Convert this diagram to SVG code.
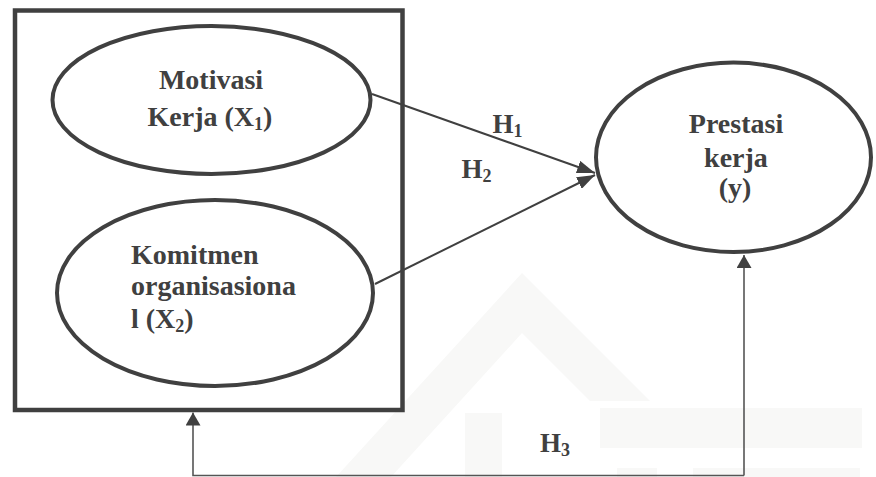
<svg xmlns="http://www.w3.org/2000/svg" width="876" height="477" viewBox="0 0 876 477">
<defs>
<style>
.node{fill:none;stroke:#404040;stroke-width:4}
.lbl{font-family:"Liberation Serif","Times New Roman",serif;font-weight:bold;font-size:28px;fill:#404040}
.hl{font-family:"Liberation Serif","Times New Roman",serif;font-weight:bold;font-size:27px;fill:#404040}
.sub{font-size:18px}
.edge{fill:none;stroke:#404040;stroke-width:2}
.edge2{fill:none;stroke:#555555;stroke-width:1.6}
.wm{fill:#f8f8f7}
</style>
<marker id="ahd" markerUnits="userSpaceOnUse" viewBox="0 0 18 13" refX="18" refY="6.5" markerWidth="18" markerHeight="13" orient="auto">
<path d="M0,0 L18,6.5 L0,13 z" fill="#404040"/>
</marker>
<marker id="ahv" markerUnits="userSpaceOnUse" viewBox="0 0 13 15" refX="13" refY="7.5" markerWidth="13" markerHeight="15" orient="auto">
<path d="M0,0 L13,7.5 L0,15 z" fill="#404040"/>
</marker>
</defs>
<rect width="876" height="477" fill="#ffffff"/>
<g id="watermark">
<polygon class="wm" points="336,477 522,273 650,401 590,401 522,333 391,477"/>
<rect class="wm" x="600" y="408" width="262" height="40"/>
<rect class="wm" x="465" y="413" width="37" height="64"/>
<rect class="wm" x="617" y="468" width="40" height="9"/>
<rect class="wm" x="693" y="468" width="167" height="9"/>
</g>
<g id="box">
<rect x="15" y="10.5" width="387.5" height="399.5" fill="none" stroke="#404040" stroke-width="4.5"/>
</g>
<g id="motivasi">
<ellipse class="node" cx="211.5" cy="100" rx="159" ry="74"/>
<text class="lbl" text-anchor="middle"><tspan x="211" y="89">Motivasi</tspan><tspan x="210" y="126">Kerja (X<tspan class="sub" dy="4">1</tspan><tspan dy="-4">)</tspan></tspan></text>
</g>
<g id="komitmen">
<ellipse class="node" cx="215" cy="293" rx="158" ry="93"/>
<text class="lbl"><tspan x="131" y="264">Komitmen</tspan><tspan x="131" y="295">organisasiona</tspan><tspan x="131" y="328">l (X<tspan class="sub" dy="4">2</tspan><tspan dy="-4">)</tspan></tspan></text>
</g>
<g id="prestasi">
<ellipse class="node" cx="733.5" cy="157.3" rx="137.5" ry="94.7"/>
<text class="lbl" text-anchor="middle"><tspan x="736" y="133">Prestasi</tspan><tspan x="736" y="166.5">kerja</tspan><tspan x="735" y="196.5">(y)</tspan></text>
</g>
<g id="connectors">
<path class="edge" d="M372,94 L595,173" marker-end="url(#ahd)"/>
<path class="edge" d="M375,284 L595,175" marker-end="url(#ahd)"/>
<path class="edge2" d="M744,475.5 V255" marker-end="url(#ahv)"/>
<path class="edge2" d="M744,475.5 H193 V412.5" marker-end="url(#ahv)"/>
<text class="hl" x="492.5" y="133">H<tspan class="sub" dy="4">1</tspan></text>
<text class="hl" x="461.5" y="178">H<tspan class="sub" dy="4">2</tspan></text>
<text class="hl" x="540" y="451.5">H<tspan class="sub" dy="4">3</tspan></text>
</g>
</svg>
